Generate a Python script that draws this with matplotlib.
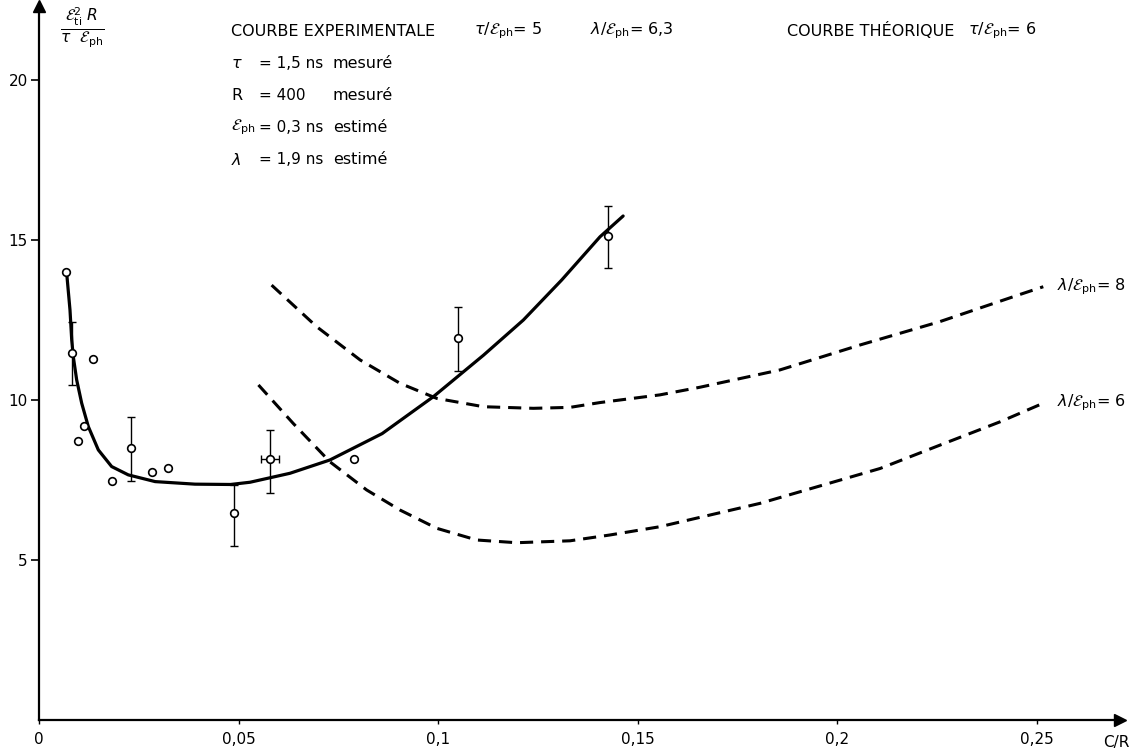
import numpy as np
import matplotlib
matplotlib.use("Agg")
import matplotlib.pyplot as plt

plt.rcParams['font.family'] = ['DejaVu Sans']
plt.rcParams['mathtext.fontset'] = 'dejavusans'

# courbe experimentale (trait plein)
exp_x = [0.00694, 0.00777, 0.0082, 0.0086, 0.00944, 0.0107, 0.01236, 0.01487,
         0.01821, 0.02238, 0.0291, 0.0391, 0.0480, 0.0529, 0.0629, 0.0729,
         0.0860, 0.0988, 0.1114, 0.1214, 0.1310, 0.1406, 0.1464]
exp_y = [13.96, 12.81, 11.875, 11.35, 10.63, 9.9, 9.17, 8.44,
         7.92, 7.66, 7.45, 7.37, 7.36, 7.43, 7.71, 8.125,
         8.95, 10.1, 11.4, 12.5, 13.75, 15.1, 15.75]

# courbes theoriques (tirets)
th8_x = [0.0583, 0.0696, 0.0805, 0.0905, 0.0997, 0.1114, 0.1239, 0.1331, 0.1406,
         0.1556, 0.1657, 0.1857, 0.2058, 0.2258, 0.2459, 0.2517]
th8_y = [13.59, 12.29, 11.25, 10.52, 10.05, 9.79, 9.74, 9.77, 9.92,
         10.16, 10.40, 10.94, 11.72, 12.45, 13.3, 13.54]
th6_x = [0.0550, 0.0637, 0.0729, 0.0821, 0.0905, 0.0997, 0.1097, 0.1197, 0.1331,
         0.1430, 0.1556, 0.1807, 0.2108, 0.2258, 0.2409, 0.2517]
th6_y = [10.47, 9.27, 8.07, 7.19, 6.56, 5.99, 5.625, 5.54, 5.6,
         5.78, 6.04, 6.77, 7.86, 8.59, 9.32, 9.9]

# points mesures
pts_x = [0.00677, 0.0097, 0.01128, 0.01345, 0.01838, 0.0284, 0.03225, 0.0789]
pts_y = [13.99, 8.72, 9.19, 11.27, 7.48, 7.74, 7.87, 8.15]

# points avec barres d'erreur
err_x = [0.00835, 0.02297, 0.0489, 0.0579, 0.1051, 0.1427]
err_y = [11.46, 8.49, 6.46, 8.15, 11.93, 15.13]
err_top = [12.45, 9.46, 7.34, 9.06, 12.92, 16.07]
err_bot = [10.47, 7.48, 5.45, 7.08, 10.92, 14.13]
err_dx = [0, 0, 0, 0.0022, 0, 0]

xticks = [0, 0.05, 0.1, 0.15, 0.2, 0.25]
xlabels = ["0", "0,05", "0,1", "0,15", "0,2", "0,25"]
yticks = [5, 10, 15, 20]

W, H = 1134, 751
fig = plt.figure(figsize=(W / 100, H / 100), dpi=100)
x0, sx = 39, 3990
y0, sy = 720, 32
ax = fig.add_axes([x0 / W, (H - y0) / H, (1120 - x0) / W, (y0 - 6) / H])
ax.set_xlim(0, (1120 - x0) / sx)
ax.set_ylim(0, (y0 - 6) / sy)

for s in ['top', 'right']:
    ax.spines[s].set_visible(False)
ax.spines['left'].set_linewidth(1.6)
ax.spines['bottom'].set_linewidth(1.6)
ax.plot(1, 0, ">k", ms=8, transform=ax.get_yaxis_transform(), clip_on=False)
ax.plot(0, 1, "^k", ms=8, transform=ax.get_xaxis_transform(), clip_on=False)

ax.set_yticks(yticks)
ax.set_yticklabels([str(t) for t in yticks])
ax.set_xticks(xticks)
ax.set_xticklabels(xlabels)
ax.tick_params(axis='y', direction='out', length=6, width=1.2, labelsize=11, pad=2)
ax.tick_params(axis='x', direction='out', length=3, width=1, labelsize=11, pad=6)

ax.plot(exp_x, exp_y, color='black', lw=2.3, solid_capstyle='round',
        solid_joinstyle='round')
ax.plot(th8_x, th8_y, color='black', lw=2.2, dashes=(4.3, 2.6))
ax.plot(th6_x, th6_y, color='black', lw=2.2, dashes=(4.3, 2.6))

yerr = [np.array(err_y) - np.array(err_bot), np.array(err_top) - np.array(err_y)]
ax.errorbar(err_x, err_y, yerr=yerr, xerr=err_dx, fmt='none',
            ecolor='black', elinewidth=1.0, capsize=3, capthick=1.0, zorder=3)
ax.plot(pts_x + err_x, pts_y + err_y, 'o', ms=5.5, mfc='white', mec='black',
        mew=1.2, zorder=4)


def px(x, y, s, size=11.5):
    fig.text(x / W, 1 - y / H, s, va='center', ha='left', fontsize=size)


eph = r'$\mathcal{E}_{\mathrm{ph}}$'
px(60, 28, r'$\frac{\mathcal{E}_{\mathrm{ti}}^{2}\ R}{\tau\ \ \mathcal{E}_{\mathrm{ph}}}$', 16)

px(231, 31, "COURBE EXPERIMENTALE")
px(474, 31, r'$\tau/$' + eph + "= 5")
px(590, 31, r'$\lambda/$' + eph + "= 6,3")
px(787, 31, "COURBE THÉORIQUE")
px(968, 31, r'$\tau/$' + eph + "= 6")

rows = [(r'$\tau$', "= 1,5 ns", "mesuré"),
        ("R", "= 400", "mesuré"),
        (eph, "= 0,3 ns", "estimé"),
        (r'$\lambda$', "= 1,9 ns", "estimé")]
for i, (sym, val, how) in enumerate(rows):
    yy = 63 + i * 32.3
    px(231, yy, sym)
    px(259, yy, val, 11)
    px(333, yy, how)

px(1057, 287, r'$\lambda/$' + eph + "= 8")
px(1057, 403, r'$\lambda/$' + eph + "= 6")
px(1103, 742, "C/R", 11)

fig.savefig("out.png", dpi=100)
